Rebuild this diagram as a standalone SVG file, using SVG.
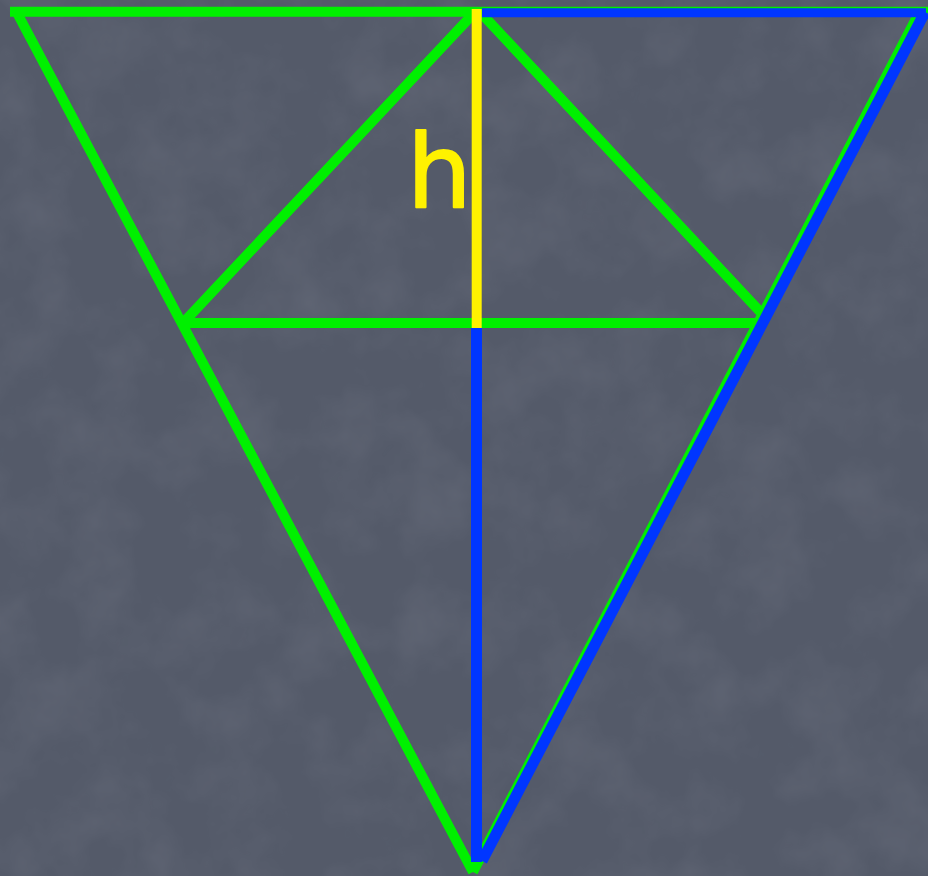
<svg xmlns="http://www.w3.org/2000/svg" width="928" height="876" viewBox="0 0 928 876">
  <style>
    .g { stroke: #00f000; stroke-width: 10; fill: none; stroke-linecap: butt; }
    .b { stroke: #0036ff; stroke-width: 11; fill: none; stroke-linecap: butt; }
    .y { stroke: #fff200; stroke-width: 10; fill: none; }
    .lbl { font-family: "DejaVu Sans", "Liberation Sans", sans-serif; font-size: 102px; fill: #fff200; stroke: #fff200; stroke-width: 2; stroke-linejoin: round; }
  </style>
  <defs>
    <filter id="tex" x="0" y="0" width="100%" height="100%">
      <feTurbulence type="fractalNoise" baseFrequency="0.015" numOctaves="4" seed="7" result="n"/>
      <feColorMatrix in="n" type="matrix" values="0 0 0 0 0.5  0 0 0 0 0.52  0 0 0 0 0.58  0 0 0 0.9 -0.35" result="c"/>
      <feComposite in="c" in2="SourceGraphic" operator="in"/>
    </filter>
  </defs>
  <g id="background">
    <rect width="928" height="876" fill="#545a69"/>
    <rect width="928" height="876" fill="#ffffff" filter="url(#tex)" opacity="0.2"/>
  </g>
  <g id="connectors">
    <g id="green-lines">
      <line class="g" x1="10" y1="11.7" x2="928" y2="11.7"/>
      <line class="g" x1="15" y1="9" x2="473" y2="872"/>
      <line class="g" x1="921" y1="9" x2="473" y2="872"/>
      <line class="g" x1="474" y1="13" x2="183" y2="323"/>
      <line class="g" x1="481" y1="13" x2="766" y2="318"/>
      <line class="g" x1="184" y1="323" x2="762" y2="323"/>
    </g>
    <g id="yellow-height">
      <line class="y" x1="476.7" y1="9" x2="476.7" y2="328"/>
    </g>
    <g id="blue-lines">
      <line x1="482" y1="12.8" x2="926" y2="12.8" stroke="#0036ff" stroke-width="9"/>
      <line class="b" x1="925" y1="12" x2="482" y2="861"/>
      <line class="b" x1="476.5" y1="328" x2="476.5" y2="862"/>
    </g>
  </g>
  <g id="label-h">
    <text class="lbl" x="407" y="207">h</text>
  </g>
</svg>
